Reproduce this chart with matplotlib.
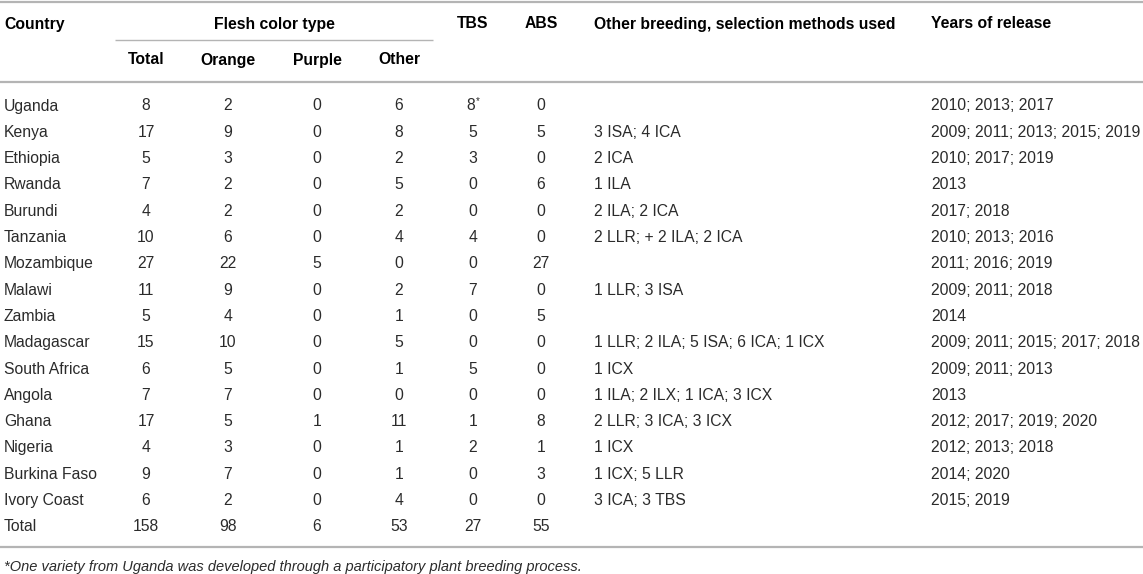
import matplotlib.pyplot as plt

# Table content
countries = ["Uganda", "Kenya", "Ethiopia", "Rwanda", "Burundi", "Tanzania", "Mozambique",
             "Malawi", "Zambia", "Madagascar", "South Africa", "Angola", "Ghana", "Nigeria",
             "Burkina Faso", "Ivory Coast"]
total = [8, 17, 5, 7, 4, 10, 27, 11, 5, 15, 6, 7, 17, 4, 9, 6]
orange = [2, 9, 3, 2, 2, 6, 22, 9, 4, 10, 5, 7, 5, 3, 7, 2]
purple = [0, 0, 0, 0, 0, 0, 5, 0, 0, 0, 0, 0, 1, 0, 0, 0]
other = [6, 8, 2, 5, 2, 4, 0, 2, 1, 5, 1, 0, 11, 1, 1, 4]
tbs = [8, 5, 3, 0, 0, 4, 0, 7, 0, 0, 5, 0, 1, 2, 0, 0]
abs_ = [0, 5, 0, 6, 0, 0, 27, 0, 5, 0, 0, 0, 8, 1, 3, 0]
methods = ["", "3 ISA; 4 ICA", "2 ICA", "1 ILA", "2 ILA; 2 ICA", "2 LLR; + 2 ILA; 2 ICA", "",
           "1 LLR; 3 ISA", "", "1 LLR; 2 ILA; 5 ISA; 6 ICA; 1 ICX", "1 ICX",
           "1 ILA; 2 ILX; 1 ICA; 3 ICX", "2 LLR; 3 ICA; 3 ICX", "1 ICX", "1 ICX; 5 LLR",
           "3 ICA; 3 TBS"]
years = ["2010; 2013; 2017", "2009; 2011; 2013; 2015; 2019", "2010; 2017; 2019", "2013",
         "2017; 2018", "2010; 2013; 2016", "2011; 2016; 2019", "2009; 2011; 2018", "2014",
         "2009; 2011; 2015; 2017; 2018", "2009; 2011; 2013", "2013", "2012; 2017; 2019; 2020",
         "2012; 2013; 2018", "2014; 2020", "2015; 2019"]
totals_row = [158, 98, 6, 53, 27, 55]
sub_headers = ["Total", "Orange", "Purple", "Other"]
footnote = "*One variety from Uganda was developed through a participatory plant breeding process."

plt.rcParams['font.family'] = ['Liberation Sans', 'DejaVu Sans']
W, H = 1143, 574
fig = plt.figure(figsize=(W / 100, H / 100), dpi=100)
ax = fig.add_axes([0, 0, 1, 1])
ax.set_xlim(0, W)
ax.set_ylim(H, 0)
ax.axis('off')

fs = 11.3
body_col = "#2b2b2b"
line_col = "#b4b4b4"
bl = 5.5  # baseline offset from visual row centre

# numeric column centers, left-aligned text columns
num_x = [146, 228, 317, 399, 473, 541]
x_country, x_methods, x_years = 4, 594, 931

# rules
ax.plot([0, W], [2, 2], color=line_col, lw=1.6, solid_capstyle='butt')
ax.plot([115, 433], [40, 40], color=line_col, lw=1.0, solid_capstyle='butt')
ax.plot([0, W], [82, 82], color=line_col, lw=1.6, solid_capstyle='butt')
ax.plot([0, W], [547, 547], color=line_col, lw=1.6, solid_capstyle='butt')

# headers
hy1, hy2 = 23 + bl, 59 + bl
hkw = dict(fontsize=fs, fontweight='bold', color='black', va='baseline')
ax.text(x_country, hy1, "Country", ha='left', **hkw)
ax.text(274, hy1, "Flesh color type", ha='center', **hkw)
ax.text(num_x[4], hy1, "TBS", ha='center', **hkw)
ax.text(num_x[5], hy1, "ABS", ha='center', **hkw)
ax.text(x_methods, hy1, "Other breeding, selection methods used", ha='left', **hkw)
ax.text(x_years, hy1, "Years of release", ha='left', **hkw)
for x, lab in zip(num_x[:4], sub_headers):
    ax.text(x, hy2, lab, ha='center', **hkw)

# body rows
y0, dy = 105, 26.3
bkw = dict(fontsize=fs, color=body_col, va='baseline')
for i, c in enumerate(countries):
    y = y0 + i * dy + bl
    ax.text(x_country, y, c, ha='left', **bkw)
    vals = [total[i], orange[i], purple[i], other[i], tbs[i], abs_[i]]
    for j, (x, v) in enumerate(zip(num_x, vals)):
        if i == 0 and j == 4:
            ax.text(x - 2, y, str(v), ha='center', **bkw)
            ax.text(x + 3, y - 6, "*", ha='left', fontsize=7, color=body_col, va='baseline')
        else:
            ax.text(x, y, str(v), ha='center', **bkw)
    ax.text(x_methods, y, methods[i], ha='left', **bkw)
    ax.text(x_years, y, years[i], ha='left', **bkw)

yt = y0 + len(countries) * dy + bl
ax.text(x_country, yt, "Total", ha='left', **bkw)
for x, v in zip(num_x, totals_row):
    ax.text(x, yt, str(v), ha='center', **bkw)

ax.text(x_country, 566 + 5, footnote, ha='left', va='baseline', fontsize=10.5,
        style='italic', color=body_col)

fig.savefig("out.png", dpi=100)
